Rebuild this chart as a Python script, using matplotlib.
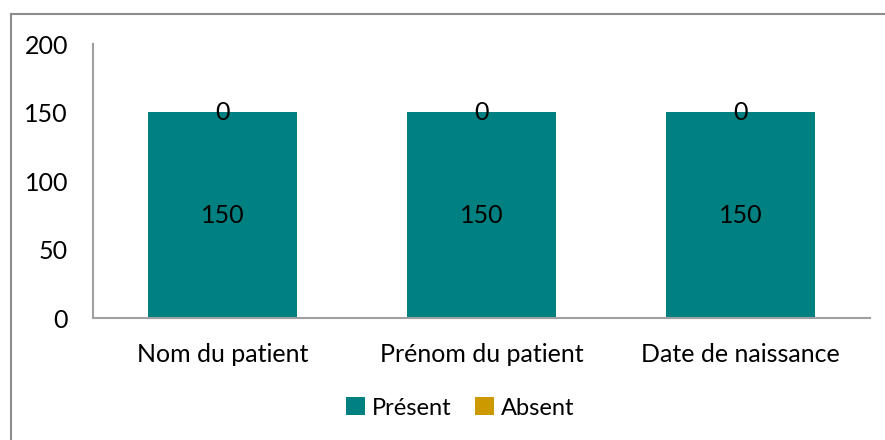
import matplotlib.pyplot as plt
from matplotlib.lines import Line2D

categories = ["Nom du patient", "Prénom du patient", "Date de naissance"]
present = [150, 150, 150]
absent = [0, 0, 0]
series_names = ["Présent", "Absent"]

plt.rcParams['font.family'] = ['Lato', 'DejaVu Sans']
fs = 18

fig = plt.figure(figsize=(8.85, 4.4), dpi=100)
ax = fig.add_axes([93 / 885, 1 - 318 / 440, (870 - 93) / 885, (318 - 44) / 440])

x = range(len(categories))
b1 = ax.bar(x, present, width=0.575, color="#008080", label=series_names[0])
b2 = ax.bar(x, absent, width=0.575, bottom=present, color="#CC9900", label=series_names[1])

for rect, v in zip(b1, present):
    ax.text(rect.get_x() + rect.get_width() / 2, rect.get_y() + v / 2, str(v),
            ha="center", va="center", fontsize=fs)
for rect, v, p in zip(b2, absent, present):
    ax.text(rect.get_x() + rect.get_width() / 2, p + v / 2, str(v),
            ha="center", va="center", fontsize=fs)

ax.set_xlim(-0.5, 2.5)
ax.set_ylim(0, 200)
ax.set_yticks([0, 50, 100, 150, 200])
ax.set_xticks(list(x))
ax.set_xticklabels(categories)
ax.tick_params(axis="both", length=0, labelsize=fs)
ax.tick_params(axis="y", pad=18)
ax.tick_params(axis="x", pad=18)
for s in ["top", "right"]:
    ax.spines[s].set_visible(False)
for s in ["left", "bottom"]:
    ax.spines[s].set_color("#a0a0a0")
    ax.spines[s].set_linewidth(1.5)

ax.legend(loc="center", bbox_to_anchor=(460 / 885, 1 - 408 / 440),
          bbox_transform=fig.transFigure, ncol=2, frameon=False, fontsize=17,
          handlelength=0.8, handleheight=0.8, handletextpad=0.3, columnspacing=1.0)

# chart border (only left and top visible in the crop)
fig.add_artist(Line2D([10.5 / 885, 10.5 / 885], [0, 1 - 14.5 / 440],
                      transform=fig.transFigure, color="#8c8c8c", lw=1.5))
fig.add_artist(Line2D([10.5 / 885, 1], [1 - 14.5 / 440, 1 - 14.5 / 440],
                      transform=fig.transFigure, color="#8c8c8c", lw=1.5))

fig.savefig("out.png", dpi=100)
